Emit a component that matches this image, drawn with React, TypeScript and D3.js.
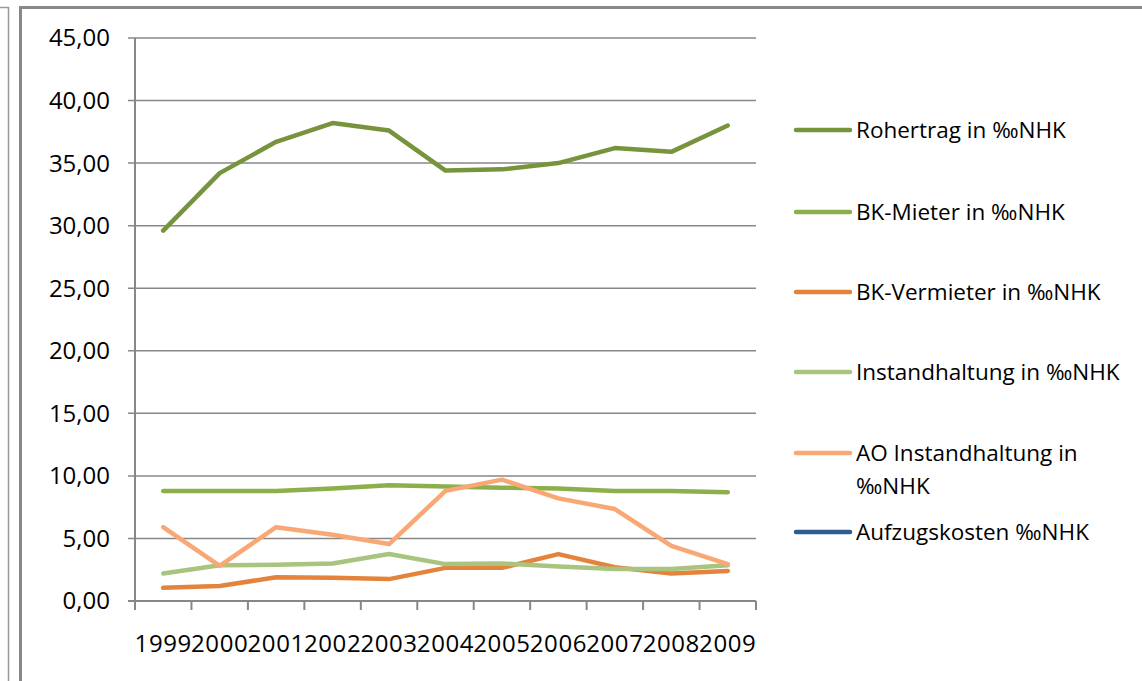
import React from "react";
import * as d3 from "d3";

const years = ["1999","2000","2001","2002","2003","2004","2005","2006","2007","2008","2009"];
const rohertrag = [29.6, 34.2, 36.7, 38.2, 37.6, 34.4, 34.5, 35.0, 36.2, 35.9, 38.0];
const bkMieter = [8.8, 8.8, 8.8, 9.0, 9.25, 9.15, 9.05, 9.0, 8.8, 8.8, 8.7];
const bkVermieter = [1.05, 1.2, 1.9, 1.85, 1.75, 2.65, 2.65, 3.75, 2.7, 2.2, 2.4];
const instandhaltung = [2.2, 2.85, 2.9, 3.0, 3.75, 2.95, 3.0, 2.75, 2.55, 2.55, 2.85];
const aoInstandhaltung = [5.9, 2.8, 5.9, 5.3, 4.55, 8.8, 9.7, 8.2, 7.35, 4.4, 2.95];
const aufzugskosten: (number | null)[] = [null, null, null, null, null, null, null, null, null, null, null];
const yTicks = [0, 5, 10, 15, 20, 25, 30, 35, 40, 45];

const series = [
  { name: ["Rohertrag in ‰NHK"], values: rohertrag, color: "#77933C" },
  { name: ["BK-Mieter in ‰NHK"], values: bkMieter, color: "#8CAF4B" },
  { name: ["BK-Vermieter in ‰NHK"], values: bkVermieter, color: "#E4843C" },
  { name: ["Instandhaltung in ‰NHK"], values: instandhaltung, color: "#A8C47E" },
  { name: ["AO Instandhaltung in", "‰NHK"], values: aoInstandhaltung, color: "#F9A774" },
  { name: ["Aufzugskosten ‰NHK"], values: aufzugskosten, color: "#2E5B92" },
];

const legendY = [130, 212, 292, 372, 453, 532];

export default function App() {
  const x = d3.scaleBand<string>().domain(years).range([135, 756]);
  const y = d3.scaleLinear().domain([0, 45]).range([601, 38]);
  const line = d3
    .line<number | null>()
    .defined((d) => d != null)
    .x((_, i) => (x(years[i]) as number) + x.bandwidth() / 2)
    .y((d) => y(d as number));
  const font = "'Open Sans', sans-serif";
  const grid = "#878787";
  return (
    <svg
      width={1142}
      height={681}
      style={{ position: "absolute", left: 0, top: 0, background: "#fff" }}
      fontFamily={font}
    >
      {/* outer frames */}
      <line x1={8.5} y1={7} x2={8.5} y2={681} stroke="#999" strokeWidth={1.5} />
      <line x1={0} y1={7.5} x2={9} y2={7.5} stroke="#999" strokeWidth={1.5} />
      <line x1={20.5} y1={7.5} x2={20.5} y2={681} stroke="#888" strokeWidth={3} />
      <line x1={19} y1={7.5} x2={1142} y2={7.5} stroke="#888" strokeWidth={3} />

      {/* gridlines */}
      {yTicks.map((t) => (
        <g key={t}>
          <line x1={128} x2={756} y1={y(t)} y2={y(t)} stroke={grid} strokeWidth={t === 0 ? 2 : 1.5} />
          <text x={110} y={y(t)} dy="0.35em" textAnchor="end" fontSize={24} fill="#000">
            {t.toFixed(2).replace(".", ",")}
          </text>
        </g>
      ))}
      {/* y axis */}
      <line x1={135} x2={135} y1={y(45)} y2={610} stroke={grid} strokeWidth={2} />
      {/* x ticks */}
      {years.map((yr) => (
        <line key={"t" + yr} x1={(x(yr) as number) + x.bandwidth()} x2={(x(yr) as number) + x.bandwidth()} y1={601} y2={610} stroke={grid} strokeWidth={2} />
      ))}
      {years.map((yr) => (
        <text key={"l" + yr} x={(x(yr) as number) + x.bandwidth() / 2} y={652} textAnchor="middle" fontSize={24} letterSpacing={0.6} fill="#000">
          {yr}
        </text>
      ))}

      {/* lines */}
      {series.map((s) => (
        <path key={s.name[0]} d={line(s.values) || ""} fill="none" stroke={s.color} strokeWidth={4.5} strokeLinejoin="round" strokeLinecap="round" />
      ))}

      {/* legend */}
      {series.map((s, i) => (
        <g key={"lg" + i}>
          <line x1={796} x2={850} y1={legendY[i]} y2={legendY[i]} stroke={s.color} strokeWidth={4.5} strokeLinecap="round" />
          {s.name.map((n, j) => (
            <text key={j} x={856} y={legendY[i] + j * 33} dy="0.35em" fontSize={22.5} fill="#000">
              {n}
            </text>
          ))}
        </g>
      ))}
    </svg>
  );
}
